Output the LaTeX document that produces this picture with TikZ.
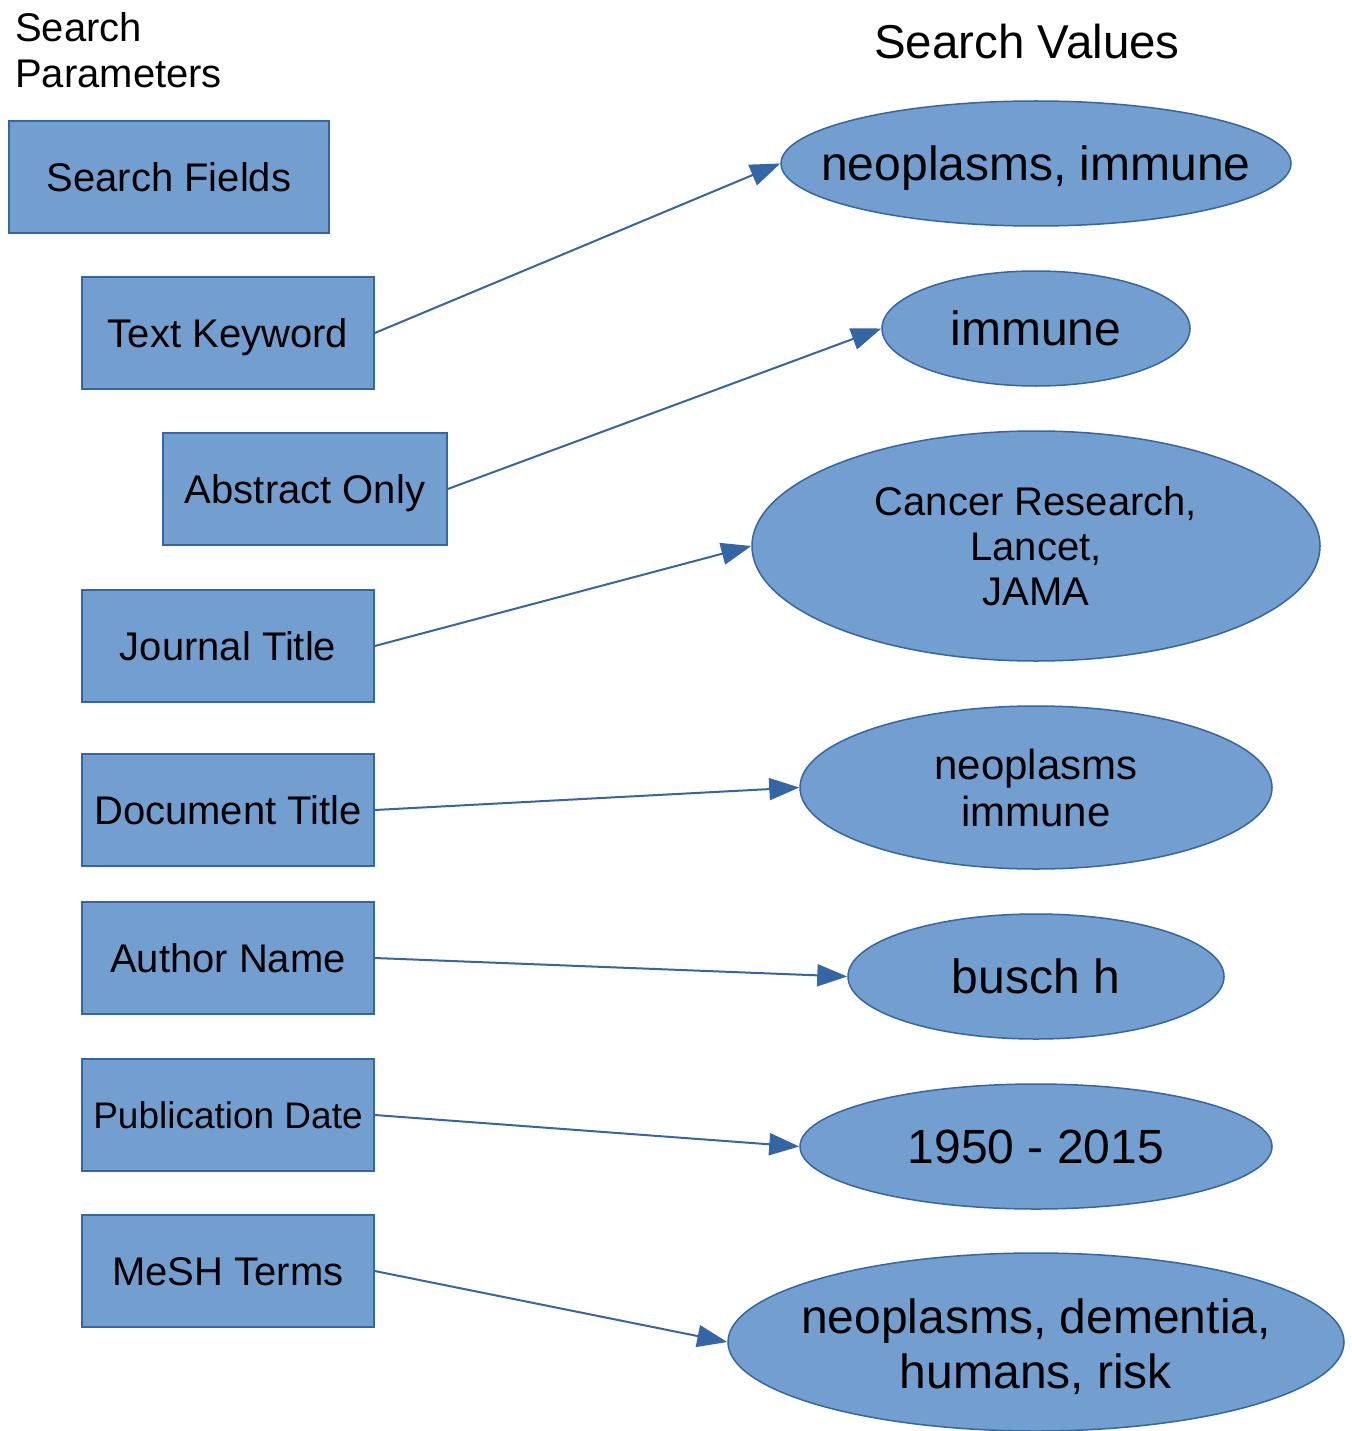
\documentclass[tikz,border=0pt]{standalone}
\usepackage{fontspec}
\setmainfont{Liberation Sans}
\usetikzlibrary{shapes.geometric,arrows.meta}
\definecolor{fillb}{HTML}{729FCF}
\definecolor{lineb}{HTML}{3465A4}
\newcommand{\flatline}[2]{\makebox[0pt]{\raisebox{#1}[0pt][0pt]{#2}}}
\begin{document}
\begin{tikzpicture}[x=1pt,y=-1pt,
  fieldbox/.style={rectangle, draw=lineb, fill=fillb, line width=1.5pt,
    minimum height=112pt, inner sep=0pt,
    font=\fontsize{40}{46}\selectfont, text height=28.6pt, text depth=0pt},
  valbox/.style={ellipse, draw=lineb, fill=fillb, line width=1.5pt,
    inner sep=0pt, align=center},
  oneline/.style={font=\fontsize{48}{55}\selectfont, text height=34.4pt, text depth=0pt},
  link/.style={draw=lineb, line width=2pt, -{Triangle[length=30pt,width=22pt]}},
  header/.style={inner sep=0pt, align=left}
]
\useasboundingbox (0,0) rectangle (1351,1431);

% headers
\node[header, anchor=north west, font=\fontsize{40}{45.5}\selectfont] (hparam) at (15,12.5) {Search\\Parameters};
\node[header, anchor=base, font=\fontsize{47.5}{54}\selectfont] (hval) at (1027,59) {Search Values};

% parameter boxes
\node[fieldbox, minimum width=320pt] (sf) at (169,177) {Search Fields};
\node[fieldbox, minimum width=292pt] (tk) at (228,333) {Text Keyword};
\node[fieldbox, minimum width=284pt] (ab) at (305,489) {Abstract Only};
\node[fieldbox, minimum width=292pt] (jt) at (228,646) {Journal Title};
\node[fieldbox, minimum width=292pt] (dt) at (228,810) {Document Title};
\node[fieldbox, minimum width=292pt] (an) at (228,958) {Author Name};
\node[fieldbox, minimum width=292pt, font=\fontsize{37}{43}\selectfont, text height=26.5pt] (pd) at (228,1115) {Publication Date};
\node[fieldbox, minimum width=292pt] (ms) at (228,1271) {MeSH Terms};

% value ellipses
\node[valbox, oneline, minimum width=510pt, minimum height=125pt] (v1) at (1036,163.5) {\makebox[0pt]{neoplasms, immune}};
\node[valbox, oneline, minimum width=308pt, minimum height=115pt] (v2) at (1036,328.5) {immune};
\node[valbox, font=\fontsize{40}{45}\selectfont, minimum width=568pt, minimum height=230pt] (v3) at (1036,546) {Cancer Research,\\Lancet,\\JAMA};
\node[valbox, font=\fontsize{42}{47}\selectfont, minimum width=472pt, minimum height=163pt] (v4) at (1036,787.5) {neoplasms\\immune};
\node[valbox, oneline, minimum width=376pt, minimum height=125pt] (v5) at (1036,976.5) {busch h};
\node[valbox, oneline, minimum width=472pt, minimum height=125pt] (v6) at (1036,1146.5) {1950 - 2015};
\node[valbox, font=\fontsize{48}{55}\selectfont, minimum width=616pt, minimum height=178pt] (v7) at (1036,1342)
  {\flatline{-18.5pt}{neoplasms, dementia,}\\\flatline{-18.5pt}{humans, risk}};

% connectors
\draw[link] (tk.east) -- (v1.west);
\draw[link] (ab.east) -- (v2.west);
\draw[link] (jt.east) -- (v3.west);
\draw[link] (dt.east) -- (v4.west);
\draw[link] (an.east) -- (v5.west);
\draw[link] (pd.east) -- (v6.west);
\draw[link] (ms.east) -- (v7.west);
\end{tikzpicture}
\end{document}
